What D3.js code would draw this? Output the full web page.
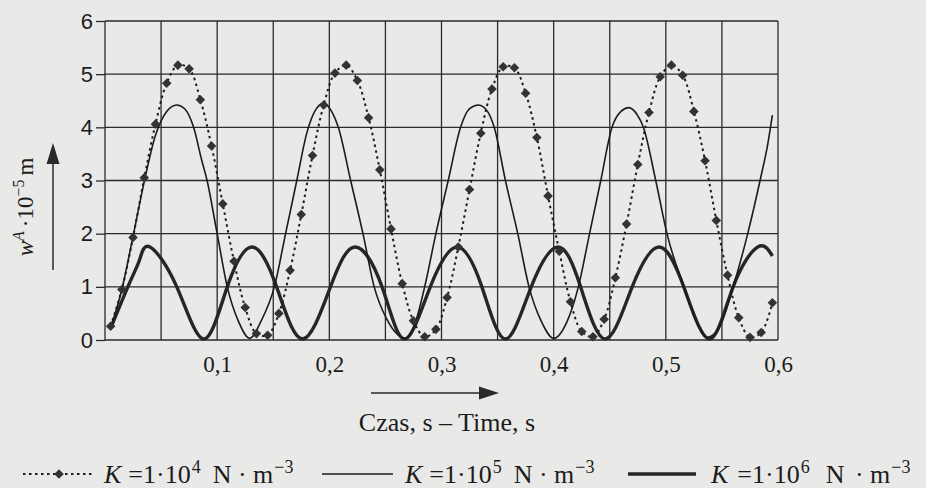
<!DOCTYPE html>
<html>
<head>
<meta charset="utf-8">
<script src="https://cdn.jsdelivr.net/npm/d3@7"></script>
<style>
  html, body { margin: 0; padding: 0; background: #e9e9e7; }
  svg { display: block; }
</style>
</head>
<body>
<svg id="chart" width="926" height="488"></svg>
<script>
// Sample times (s) and amplitudes (×10^-5 m) for the three foundation stiffnesses K.
const timeK4 = [0.005,0.015,0.025,0.035,0.045,0.055,0.065,0.075,0.085,0.095,
                0.105,0.115,0.125,0.135,0.145,0.155,0.165,0.175,0.185,0.195,
                0.205,0.215,0.225,0.235,0.245,0.255,0.265,0.275,0.285,0.295,
                0.305,0.315,0.325,0.335,0.345,0.355,0.365,0.375,0.385,0.395,
                0.405,0.415,0.425,0.435,0.445,0.455,0.465,0.475,0.485,0.495,
                0.505,0.515,0.525,0.535,0.545,0.555,0.565,0.575,0.585,0.595];
const valueK4 = [0.26,0.95,1.93,3.05,4.06,4.83,5.17,5.10,4.52,3.65,
                 2.56,1.48,0.61,0.12,0.09,0.50,1.31,2.36,3.47,4.42,
                 5.02,5.17,4.88,4.18,3.20,2.09,1.06,0.36,0.06,0.20,
                 0.80,1.75,2.83,3.89,4.72,5.14,5.12,4.64,3.81,2.71,
                 1.67,0.72,0.16,0.06,0.39,1.17,2.18,3.30,4.28,4.95,
                 5.17,4.98,4.30,3.37,2.25,1.22,0.42,0.05,0.14,0.70];

const timeK5 = [0.005,0.015,0.025,0.035,0.045,0.055,0.064,0.071,0.079,0.086,
                0.091,0.100,0.109,0.119,0.129,0.139,0.151,0.161,0.171,0.180,
                0.187,0.195,0.202,0.208,0.219,0.230,0.240,0.251,0.261,0.268,
                0.277,0.285,0.295,0.306,0.317,0.325,0.333,0.341,0.347,0.357,
                0.368,0.378,0.389,0.400,0.412,0.422,0.432,0.442,0.452,0.460,
                0.467,0.474,0.480,0.491,0.501,0.516,0.527,0.537,0.548,0.560,
                0.573,0.584,0.591,0.595];
const valueK5 = [0.22,0.95,1.95,2.98,3.85,4.30,4.42,4.35,4.00,3.40,
                 3.00,2.00,1.00,0.35,0.03,0.35,1.00,2.00,3.00,3.90,
                 4.30,4.45,4.30,4.00,3.00,2.00,1.00,0.40,0.10,0.03,
                 0.35,1.00,2.00,3.00,4.00,4.35,4.42,4.30,4.00,3.00,
                 2.00,1.00,0.35,0.03,0.35,1.00,2.00,3.00,4.00,4.30,
                 4.37,4.25,4.00,3.00,2.00,1.00,0.35,0.05,0.25,1.00,
                 2.00,3.00,3.70,4.23];

const timeK6 = [0.005,0.022,0.031,0.040,0.064,0.088,0.109,0.131,0.153,0.176,
                0.201,0.223,0.247,0.267,0.290,0.314,0.336,0.357,0.380,0.404,
                0.424,0.446,0.470,0.494,0.516,0.539,0.560,0.582,0.595];
const valueK6 = [0.22,1.08,1.52,1.75,1.00,0.02,1.00,1.75,1.00,0.02,
                 1.00,1.75,1.00,0.02,1.00,1.75,1.00,0.02,1.00,1.75,
                 1.00,0.02,1.00,1.75,1.00,0.02,1.00,1.75,1.58];

const xTicks = [0.1, 0.2, 0.3, 0.4, 0.5, 0.6];
const xTickLabels = ["0,1", "0,2", "0,3", "0,4", "0,5", "0,6"];
const yTicks = [0, 1, 2, 3, 4, 5, 6];
const xGrid = [0, 0.05, 0.1, 0.15, 0.2, 0.25, 0.3, 0.35, 0.4, 0.45, 0.5, 0.55, 0.6];

const INK = "#1c1c1c";
const SERIF = "'Liberation Serif', 'Times New Roman', serif";
const SANS = "'Liberation Sans', Arial, sans-serif";

const svg = d3.select("#chart");
const W = 926, H = 488;
const plot = { left: 105, right: 778, top: 21, bottom: 340 };

svg.append("rect").attr("width", W).attr("height", H).attr("fill", "#e9e9e7");

const x = d3.scaleLinear().domain([0, 0.6]).range([plot.left, plot.right]);
const y = d3.scaleLinear().domain([0, 6]).range([plot.bottom, plot.top]);

// grid
const grid = svg.append("g").attr("stroke", "#2a2a2a").attr("stroke-width", 1.3);
grid.selectAll("line.v").data(xGrid).join("line")
  .attr("x1", d => x(d)).attr("x2", d => x(d))
  .attr("y1", plot.top).attr("y2", plot.bottom);
grid.selectAll("line.h").data(yTicks).join("line")
  .attr("x1", plot.left).attr("x2", plot.right)
  .attr("y1", d => y(d)).attr("y2", d => y(d));

// y axis
const yAxis = svg.append("g").attr("transform", `translate(${plot.left},0)`)
  .call(d3.axisLeft(y).tickValues(yTicks).tickSize(9).tickPadding(3).tickFormat(d3.format("d")));
yAxis.select(".domain").remove();
yAxis.selectAll(".tick line").attr("stroke", "#2a2a2a").attr("stroke-width", 1.3);
yAxis.selectAll(".tick text").attr("font-family", SANS).attr("font-size", 22).attr("fill", INK);

// x axis labels
const xAxis = svg.append("g").attr("transform", `translate(0,${plot.bottom})`)
  .call(d3.axisBottom(x).tickValues(xTicks).tickSize(0).tickPadding(16)
    .tickFormat((d, i) => xTickLabels[i]));
xAxis.select(".domain").remove();
xAxis.selectAll(".tick text").attr("font-family", SERIF).attr("font-size", 23).attr("fill", INK);

// series
const k6 = timeK6.map((t, i) => [t, valueK6[i]]);
const k5 = timeK5.map((t, i) => [t, valueK5[i]]);
const k4 = timeK4.map((t, i) => [t, valueK4[i]]);

svg.append("clipPath").attr("id", "plotclip").append("rect")
  .attr("x", plot.left).attr("y", plot.top - 5)
  .attr("width", plot.right - plot.left).attr("height", plot.bottom - plot.top + 10);

const series = svg.append("g").attr("clip-path", "url(#plotclip)");

series.append("path").datum(k6)
  .attr("d", d3.line().x(d => x(d[0])).y(d => y(d[1])).curve(d3.curveNatural))
  .attr("fill", "none").attr("stroke", "#262626").attr("stroke-width", 3.4)
  .attr("stroke-linejoin", "round");

series.append("path").datum(k5)
  .attr("d", d3.line().x(d => x(d[0])).y(d => y(d[1])).curve(d3.curveMonotoneX))
  .attr("fill", "none").attr("stroke", INK).attr("stroke-width", 1.6);

series.append("path").datum(k4)
  .attr("d", d3.line().x(d => x(d[0])).y(d => y(d[1])).curve(d3.curveCatmullRom.alpha(0.5)))
  .attr("fill", "none").attr("stroke", INK).attr("stroke-width", 2)
  .attr("stroke-dasharray", "2.5,3.5");

const diamond = d3.symbol().type(d3.symbolSquare).size(46);
series.selectAll("path.mk").data(k4).join("path")
  .attr("class", "mk")
  .attr("d", diamond)
  .attr("transform", d => `translate(${x(d[0])},${y(d[1])}) rotate(45)`)
  .attr("fill", "#333");

// axis arrows
const arrows = svg.append("g").attr("fill", "#2a2a2a").attr("stroke", "#2a2a2a");
arrows.append("line").attr("x1", 53).attr("x2", 53).attr("y1", 270).attr("y2", 160).attr("stroke-width", 1.5);
arrows.append("path").attr("d", "M53,143 L46.5,164 L59.5,164 Z").attr("stroke", "none");
arrows.append("line").attr("x1", 371).attr("x2", 484).attr("y1", 393).attr("y2", 393).attr("stroke-width", 1.5);
arrows.append("path").attr("d", "M499,393 L479,386.5 L479,399.5 Z").attr("stroke", "none");

// y axis title
const yt = svg.append("text")
  .attr("transform", "translate(33,207) rotate(-90)")
  .attr("text-anchor", "middle")
  .attr("font-family", SERIF).attr("font-size", 23).attr("fill", INK);
yt.append("tspan").attr("font-style", "italic").text("w");
yt.append("tspan").attr("font-style", "italic").attr("font-size", 16).attr("dy", -9).text("A");
yt.append("tspan").attr("dy", 9).attr("dx", 4).text("·10");
yt.append("tspan").attr("font-size", 16).attr("dy", -9).text("−5");
yt.append("tspan").attr("dy", 9).attr("dx", 4).text("m");

// x axis title
svg.append("text").attr("x", 447).attr("y", 431).attr("text-anchor", "middle")
  .attr("font-family", SERIF).attr("font-size", 26).attr("fill", INK)
  .text("Czas, s – Time, s");

// legend
const legendY = 474;
const legendItems = [
  { exp: "4", x0: 23, x1: 95, tx: 104, kind: "dot", gapEq: 7, gapN: 12, gapM: 0 },
  { exp: "5", x0: 322, x1: 393, tx: 405, kind: "thin", gapEq: 7, gapN: 12, gapM: 0 },
  { exp: "6", x0: 628, x1: 696, tx: 711, kind: "thick", gapEq: 9, gapN: 16, gapM: 4 }
];
const leg = svg.append("g");
legendItems.forEach(it => {
  const ln = leg.append("line").attr("x1", it.x0).attr("x2", it.x1)
    .attr("y1", legendY).attr("y2", legendY).attr("stroke", INK);
  if (it.kind === "dot") {
    ln.attr("stroke-width", 2).attr("stroke-dasharray", "2.5,3.5");
    leg.append("path").attr("d", diamond)
      .attr("transform", `translate(${(it.x0 + it.x1) / 2},${legendY}) rotate(45)`)
      .attr("fill", "#333");
  } else if (it.kind === "thin") {
    ln.attr("stroke-width", 1.6);
  } else {
    ln.attr("stroke-width", 3.4).attr("stroke", "#262626");
  }
  const t = leg.append("text").attr("x", it.tx).attr("y", legendY + 9)
    .attr("font-family", SERIF).attr("font-size", 26).attr("fill", INK);
  t.append("tspan").attr("font-style", "italic").text("K");
  t.append("tspan").attr("dx", it.gapEq).text("=1·10");
  t.append("tspan").attr("font-size", 18).attr("dy", -10).attr("dx", 1).text(it.exp);
  t.append("tspan").attr("dy", 10).attr("dx", it.gapN).text("N");
  t.append("tspan").attr("dx", it.gapM).text(" · m");
  t.append("tspan").attr("font-size", 18).attr("dy", -10).attr("dx", 1).text("−3");
});
</script>
</body>
</html>
